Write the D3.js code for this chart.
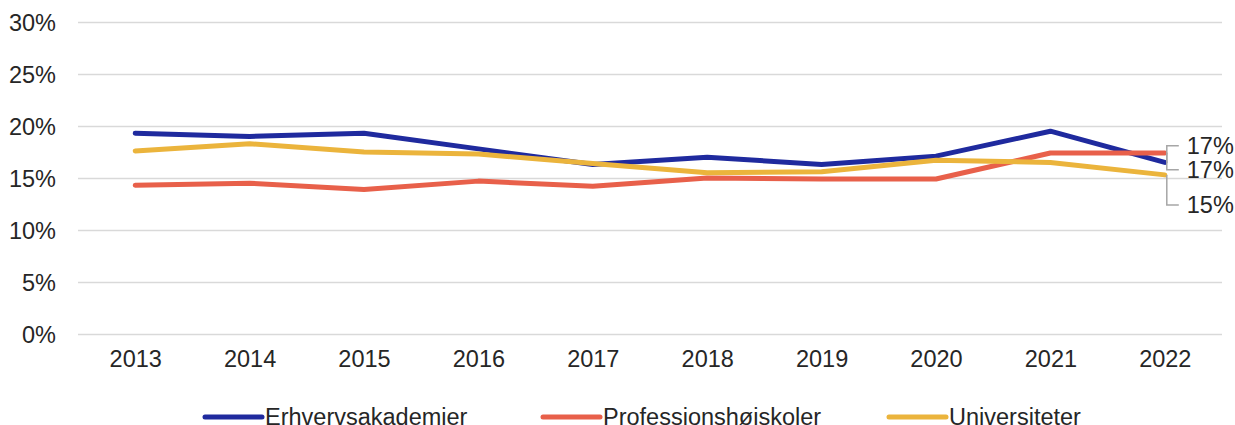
<!DOCTYPE html>
<html>
<head>
<meta charset="utf-8">
<script src="https://cdn.jsdelivr.net/npm/d3@7"></script>
<style>
  body { margin: 0; background: #fff; }
  svg { display: block; font-family: "Liberation Sans", Arial, sans-serif; }
</style>
</head>
<body>
<script>
// chart data
var years = ["2013", "2014", "2015", "2016", "2017", "2018", "2019", "2020", "2021", "2022"];
var erhverv = [19.3, 19.0, 19.3, 17.8, 16.3, 17.0, 16.3, 17.1, 19.5, 16.5];
var profession = [14.3, 14.5, 13.9, 14.7, 14.2, 15.0, 14.9, 14.9, 17.4, 17.4];
var universitet = [17.6, 18.3, 17.5, 17.3, 16.4, 15.5, 15.6, 16.7, 16.5, 15.3];
var seriesNames = ["Erhvervsakademier", "Professionshøjskoler", "Universiteter"];
var endLabels = ["17%", "17%", "15%"];
var yTicks = [0, 5, 10, 15, 20, 25, 30];

var width = 1235, height = 425;
var margin = { left: 78, right: 13, top: 22, bottom: 91 };
var fontSize = "23.5px";

var color = d3.scaleOrdinal()
    .domain(seriesNames)
    .range(["#1f2a9e", "#e8604a", "#ebb43c"]);

var series = [
    { name: seriesNames[0], values: erhverv, label: endLabels[0] },
    { name: seriesNames[1], values: profession, label: endLabels[1] },
    { name: seriesNames[2], values: universitet, label: endLabels[2] }
];

var svg = d3.select("body").append("svg")
    .attr("width", width)
    .attr("height", height);

var x = d3.scalePoint()
    .domain(years)
    .range([margin.left, width - margin.right])
    .padding(0.5);

var y = d3.scaleLinear()
    .domain([0, 30])
    .range([height - margin.bottom, margin.top]);

// gridlines + y labels
var yAxis = svg.append("g")
    .attr("transform", "translate(" + margin.left + ",0)")
    .call(d3.axisLeft(y)
        .tickValues(yTicks)
        .tickSize(-(width - margin.left - margin.right))
        .tickPadding(22)
        .tickFormat(function(d) { return d + "%"; }));
yAxis.select(".domain").remove();
yAxis.selectAll("line").attr("stroke", "#d9d9d9").attr("stroke-width", 1.5);
yAxis.selectAll("text")
    .attr("fill", "#262626")
    .style("font-size", fontSize)
    .attr("dy", "0.35em");

// x labels
var xAxis = svg.append("g")
    .attr("transform", "translate(0," + (height - margin.bottom) + ")")
    .call(d3.axisBottom(x).tickSize(0).tickPadding(16));
xAxis.select(".domain").remove();
xAxis.selectAll("text")
    .attr("fill", "#262626")
    .style("font-size", fontSize);

var line = d3.line()
    .x(function(d, i) { return x(years[i]); })
    .y(function(d) { return y(d); });

svg.append("g")
    .selectAll("path")
    .data(series)
    .enter().append("path")
    .attr("d", function(d) { return line(d.values); })
    .attr("fill", "none")
    .attr("stroke", function(d) { return color(d.name); })
    .attr("stroke-width", 5)
    .attr("stroke-linejoin", "round")
    .attr("stroke-linecap", "round");

// end labels with leader lines (label heights in %-units)
var lastX = x(years[years.length - 1]);
var labelY = [y(18.1), y(15.8), y(12.4)];
var lab = svg.append("g");
series.forEach(function(s, i) {
    var yEnd = y(s.values[s.values.length - 1]);
    lab.append("path")
        .attr("d", "M" + (lastX + 2) + "," + yEnd + "V" + labelY[i] + "H" + (lastX + 14))
        .attr("fill", "none")
        .attr("stroke", "#a6a6a6")
        .attr("stroke-width", 1.5);
    lab.append("text")
        .attr("x", lastX + 22)
        .attr("y", labelY[i])
        .attr("dy", "0.35em")
        .attr("fill", "#262626")
        .style("font-size", fontSize)
        .text(s.label);
});

// legend
var legendX = [205, 543, 889];
var legend = svg.append("g")
    .selectAll("g")
    .data(series)
    .enter().append("g")
    .attr("transform", function(d, i) { return "translate(" + legendX[i] + ",417)"; });
legend.append("line")
    .attr("x1", 0).attr("x2", 57)
    .attr("stroke", function(d) { return color(d.name); })
    .attr("stroke-width", 5)
    .attr("stroke-linecap", "round");
legend.append("text")
    .attr("x", 60)
    .attr("y", 0)
    .attr("dy", "0.35em")
    .attr("fill", "#262626")
    .style("font-size", fontSize)
    .text(function(d) { return d.name; });
</script>
</body>
</html>
